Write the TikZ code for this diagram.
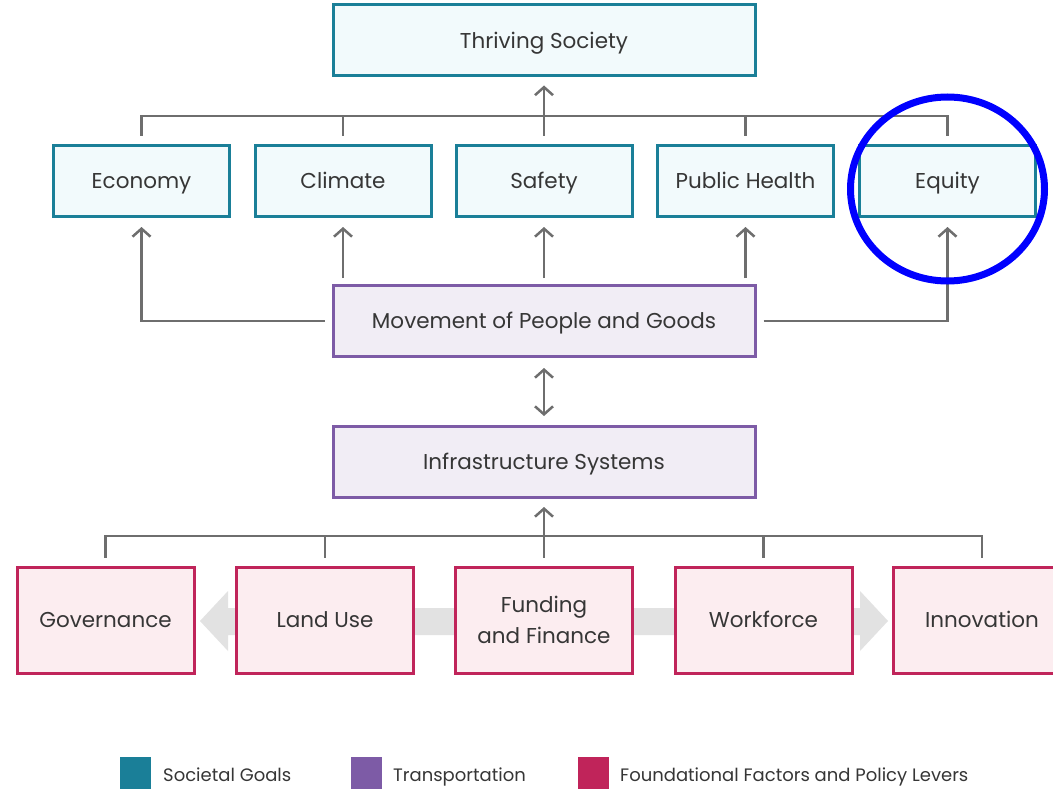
\documentclass[tikz,border=0pt]{standalone}
\usepackage{fontspec}
\setmainfont{Poppins}
\usetikzlibrary{arrows.meta}
\definecolor{tealc}{HTML}{1A7F98}
\definecolor{tealf}{HTML}{F2FAFC}
\definecolor{purc}{HTML}{7D5BA6}
\definecolor{purf}{HTML}{F1EDF5}
\definecolor{redc}{HTML}{C0245A}
\definecolor{redf}{HTML}{FCEDF0}
\definecolor{linec}{HTML}{6E6E6E}
\definecolor{txtc}{HTML}{363636}
\definecolor{bandc}{HTML}{E2E2E2}
\tikzset{
  box/.style={draw, line width=3pt, minimum height=71pt, inner sep=0pt,
    text=txtc, font=\fontsize{21.5}{30}\selectfont, text height=15.5pt, text depth=0pt},
  goal/.style={box, draw=tealc, fill=tealf, minimum width=176pt},
  trans/.style={box, draw=purc, fill=purf, minimum width=422pt},
  found/.style={box, draw=redc, fill=redf, minimum width=177pt, minimum height=106pt},
  found2/.style={draw, line width=3pt, inner sep=0pt, align=center, text=txtc,
    font=\fontsize{21.5}{31}\selectfont, draw=redc, fill=redf, minimum width=177pt, minimum height=106pt},
  ln/.style={draw=linec, line width=2.5pt},
  arr/.style={ln, -{Straight Barb[length=8pt,width=18pt,line width=2.5pt]}},
  darr/.style={ln, {Straight Barb[length=8pt,width=18pt,line width=2.5pt]}-{Straight Barb[length=8pt,width=18pt,line width=2.5pt]}},
  legsq/.style={minimum width=31pt, minimum height=34pt, inner sep=0pt},
  legtx/.style={anchor=west, text=txtc, inner sep=0pt, font=\fontsize{18}{22}\selectfont,
    text height=13pt, text depth=0pt},
}
\begin{document}
\begin{tikzpicture}[x=1pt,y=-1pt]
\useasboundingbox (0,0) rectangle (1053,789);
\fill[white] (0,0) rectangle (1053,789);
% gray band arrow behind foundational boxes
\fill[bandc] (200,621) -- (228,591) -- (228,608) -- (860,608) -- (860,591) -- (888,621)
  -- (860,651) -- (860,635) -- (228,635) -- (228,651) -- cycle;
% nodes
\node[goal, minimum width=422pt] (soc) at (544,40.5) {Thriving Society};
\node[goal] (eco) at (141.5,181) {Economy};
\node[goal] (cli) at (343,181) {Climate};
\node[goal] (saf) at (544,181) {Safety};
\node[goal] (pub) at (745.5,181) {Public Health};
\node[goal] (equ) at (947.5,181) {Equity};
\node[trans] (mov) at (544,321) {Movement of People and Goods};
\node[trans] (inf) at (544,462) {Infrastructure Systems};
\node[found] (gov) at (105.5,620) {Governance};
\node[found] (lan) at (325,620) {Land Use};
\node[found2] (fun) at (544,620) {Funding\\and Finance};
\node[found] (wor) at (763.5,620) {Workforce};
\node[found] (inn) at (982,620) {Innovation};
% top bus
\coordinate (tb) at (544,116);
\draw[ln] ([yshift=8pt]eco.north) -- (eco.north |- tb) -- (equ.north |- tb) -- ([yshift=8pt]equ.north);
\draw[ln] ([yshift=8pt]cli.north) -- (cli.north |- tb);
\draw[ln] ([yshift=8pt]pub.north) -- (pub.north |- tb);
\draw[arr] ([yshift=8pt]saf.north) -- ([yshift=-8pt]soc.south);
% movement to goals
\draw[arr] ([yshift=6pt]mov.north -| cli.south) -- ([yshift=-9pt]cli.south);
\draw[arr] ([yshift=6pt]mov.north) -- ([yshift=-9pt]saf.south);
\draw[arr] ([yshift=6pt]mov.north -| pub.south) -- ([yshift=-9pt]pub.south);
\draw[arr] ([xshift=-7pt]mov.west) -| ([yshift=-9pt]eco.south);
\draw[arr] ([xshift=7pt]mov.east) -| ([yshift=-9pt]equ.south);
% movement <-> infrastructure
\draw[darr] ([yshift=-10pt]mov.south) -- ([yshift=9pt]inf.north);
% bottom bus
\coordinate (bb) at (544,536);
\draw[ln] ([yshift=8pt]gov.north) -- (gov.north |- bb) -- (inn.north |- bb) -- ([yshift=8pt]inn.north);
\draw[ln] ([yshift=8pt]lan.north) -- (lan.north |- bb);
\draw[ln] ([yshift=8pt]wor.north) -- (wor.north |- bb);
\draw[arr] ([yshift=8pt]fun.north) -- ([yshift=-8pt]inf.south);
% legend
\node[legsq, fill=tealc] (lg1) at (135.5,774) {};
\node[legtx] (lt1) at (163,775) {Societal Goals};
\node[legsq, fill=purc] (lg2) at (366,774) {};
\node[legtx] (lt2) at (393,775) {Transportation};
\node[legsq, fill=redc] (lg3) at (593.5,774) {};
\node[legtx] (lt3) at (620,775) {Foundational Factors and Policy Levers};
% highlight circle
\draw[blue, line width=7pt] (947.5,189) ellipse [x radius=97pt, y radius=92pt];
\end{tikzpicture}
\end{document}
